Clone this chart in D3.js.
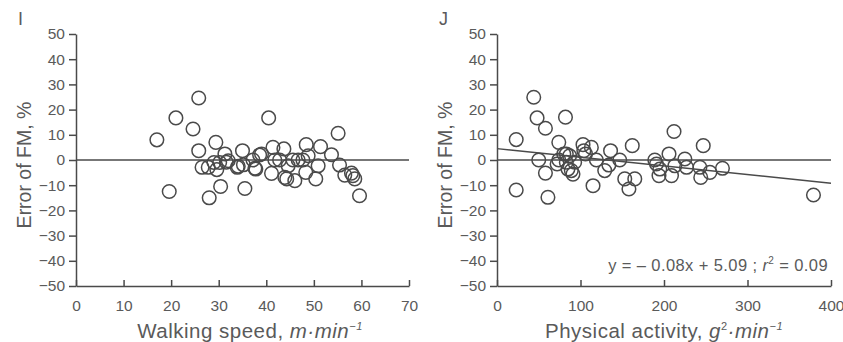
<!DOCTYPE html>
<html>
<head>
<meta charset="utf-8">
<script src="https://cdn.jsdelivr.net/npm/d3@7"></script>
<style>
  body { margin: 0; background: #fff; }
  svg text { font-family: "Liberation Sans", Arial, sans-serif; fill: #5a5a5a; }
</style>
</head>
<body>
<div id="chart"></div>
<script>
// panel I: walking speed vs error of FM
const walkSpeed = [17, 19.6, 21, 24.6, 25.8, 25.8, 26.5, 27.8, 28, 29.4, 29.6, 29, 30.4, 31.3, 32, 33.9, 35, 35.2, 35.5,
  37.2, 37.8, 39, 40.5, 41.1, 41.4, 41.8, 42.8, 43.7, 43.9, 44.3, 44.6, 45.6, 46, 46.7, 47.7, 48.3, 48.4, 48.8,
  50.4, 50.9, 51.4, 53.7, 55.1, 55.4, 56.5, 57.9, 58.2, 58.6, 59.6, 31.6, 34.1, 37.6, 38.6, 30.2]
const walkErr = [8, -12.5, 16.7, 12.3, 24.6, 3.7, -2.9, -2.9, -15, 7, -3.8, -1, -10.5, 2.4, -0.3, -2.9, 3.7, -1.9, -11.3,
  0, -3.6, 2.4, 16.7, -5.3, 5, 0, 0, 4.4, -6.9, -7.5, -2.3, 0, -8.2, 0, 0, -4.9, 6.1, 1.7,
  -7.5, -2.3, 5.3, 2.1, 10.6, -2, -6, -5.2, -6.2, -7.5, -14.2, -0.9, -2.5, -3.3, 2, -1]

// panel J: physical activity vs error of FM
const activity = [23, 23, 44, 48, 50, 58, 58, 61, 74, 72, 74, 80, 82, 83, 83, 85, 87, 89, 91, 93, 103, 104, 106, 113,
  115, 119, 129, 134, 136, 147, 153, 158, 162, 165, 189, 191, 194, 195, 206, 209, 212, 213, 225, 227, 243, 244,
  247, 255, 270, 379]
const activityErr = [8.1, -11.9, 24.9, 16.7, 0, 12.6, -5.2, -14.8, 7, -1.6, 0, 2.4, 17, 2.4, -0.9, -3.6, 1.7, -4.2,
  -5.6, -0.9, 6.1, 3.7, 2.4, 5, -10.2, 0, -4.2, -2, 3.7, 0, -7.5, -11.5, 5.7, -7.5, 0, -1.6, -6.2, -3.6, 2.4,
  -6.2, 11.3, -2.3, 0.4, -2.9, -2.9, -6.9, 5.7, -4.9, -3.3, -13.9]

// regression line as drawn
const fitX = [0, 400]
const fitY = [4.5, -9.2]

const yTicks = [-50, -40, -30, -20, -10, 0, 10, 20, 30, 40, 50]
const walkTicks = [0, 10, 20, 30, 40, 50, 60, 70]
const activityTicks = [0, 100, 200, 300, 400]

const W = 843
const H = 342
const ink = '#4a4a4a'

const svg = d3.select('#chart').append('svg').attr('width', W).attr('height', H)

function drawPanel(opt) {
  const g = svg.append('g')
  const x = d3.scaleLinear().domain(opt.xDomain).range([opt.left, opt.right])
  const y = d3.scaleLinear().domain([-50, 50]).range([286, 34])

  // zero reference line
  g.append('line')
    .attr('x1', x(opt.xDomain[0])).attr('x2', x(opt.xDomain[1]))
    .attr('y1', y(0)).attr('y2', y(0))
    .attr('stroke', ink).attr('stroke-width', 1.5)

  if (opt.fit) {
    g.append('line')
      .attr('x1', x(opt.fit[0][0])).attr('y1', y(opt.fit[1][0]))
      .attr('x2', x(opt.fit[0][1])).attr('y2', y(opt.fit[1][1]))
      .attr('stroke', ink).attr('stroke-width', 1.4)
  }

  // axes
  const yAxis = d3.axisLeft(y).tickValues(yTicks).tickSizeInner(7).tickSizeOuter(0).tickPadding(4)
  const gy = g.append('g').attr('transform', `translate(${opt.left},0)`).call(yAxis)
  const xAxis = d3.axisBottom(x).tickValues(opt.xTicks).tickSizeInner(-6).tickSizeOuter(0).tickPadding(14)
  const gx = g.append('g').attr('transform', `translate(0,${y(-50)})`).call(xAxis)
  ;[gx, gy].forEach(a => {
    a.selectAll('path, line').attr('stroke', ink).attr('stroke-width', 1.5)
    a.selectAll('text').attr('font-size', 15.5).attr('fill', '#5a5a5a')
      .style('font-family', '"Liberation Sans", Arial, sans-serif')
  })

  // points
  g.selectAll('circle.pt')
    .data(opt.xs.map((v, i) => [v, opt.ys[i]]))
    .enter().append('circle')
    .attr('class', 'pt')
    .attr('cx', d => x(d[0])).attr('cy', d => y(d[1]))
    .attr('r', 6.8)
    .attr('fill', 'none').attr('stroke', ink).attr('stroke-width', 1.5)

  // panel letter
  g.append('text').attr('x', opt.left - 58).attr('y', 25).attr('font-size', 18).text(opt.letter)

  // y label
  g.append('text')
    .attr('transform', `translate(${opt.left - 45},165) rotate(-90)`)
    .attr('text-anchor', 'middle').attr('font-size', 19.5)
    .text('Error of FM, %')

  // x label
  const xl = g.append('text').attr('x', opt.labelX).attr('y', 338)
    .attr('text-anchor', 'middle').attr('font-size', 20.5).attr('letter-spacing', 0.5)
  opt.xLabel.forEach(p => {
    const t = xl.append('tspan').text(p.t)
    if (p.i) t.attr('font-style', 'italic')
    if (p.sup) t.attr('font-size', 11).attr('dy', -8)
    if (p.down) t.attr('dy', 8)
  })
  return { x, y, g }
}

drawPanel({
  letter: 'I', left: 76, right: 409, xDomain: [0, 70], xTicks: walkTicks,
  xs: walkSpeed, ys: walkErr, labelX: 250,
  xLabel: [{ t: 'Walking speed, ' }, { t: 'm·min', i: true }, { t: '−1', i: true, sup: true }]
})

const pJ = drawPanel({
  letter: 'J', left: 497, right: 831, xDomain: [0, 400], xTicks: activityTicks,
  xs: activity, ys: activityErr, fit: [fitX, fitY], labelX: 664,
  xLabel: [{ t: 'Physical activity, ' }, { t: 'g', i: true }, { t: '2', sup: true },
    { t: '·min', i: true, down: true }, { t: '−1', i: true, sup: true }]
})

// regression equation
const eq = pJ.g.append('text').attr('x', 828).attr('y', 271).attr('text-anchor', 'end')
  .attr('font-size', 16.5).attr('letter-spacing', 0.4)
eq.append('tspan').text('y = – 0.08x + 5.09 ; ')
eq.append('tspan').attr('font-style', 'italic').text('r')
eq.append('tspan').attr('font-size', 10).attr('dy', -7).text('2')
eq.append('tspan').attr('dy', 7).text(' = 0.09')
</script>
</body>
</html>
